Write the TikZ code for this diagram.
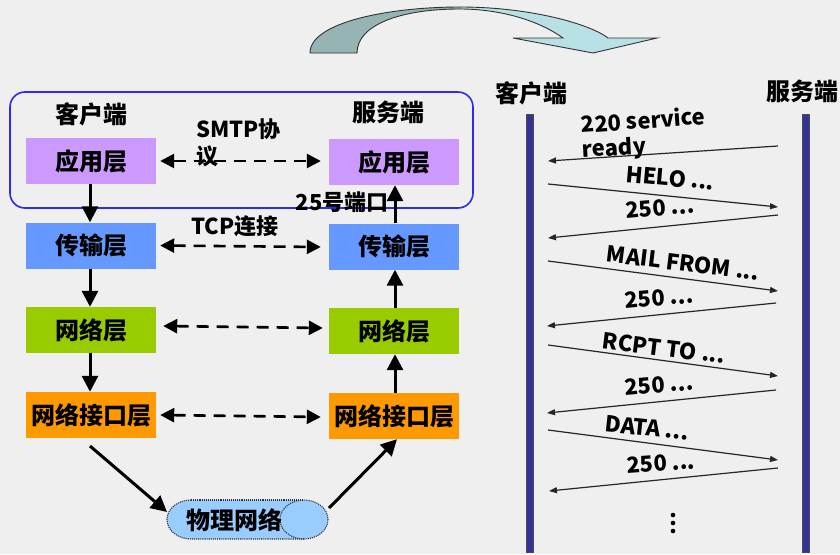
\documentclass[tikz,border=0pt]{standalone}
\usepackage{fontspec}
\setmainfont{Noto Sans CJK SC}
\usetikzlibrary{arrows.meta}
\definecolor{bg}{HTML}{EFEFEF}
\definecolor{appc}{HTML}{CC99FF}
\definecolor{tpc}{HTML}{6699FF}
\definecolor{netc}{HTML}{99CC00}
\definecolor{ifc}{HTML}{FF9900}
\definecolor{physc}{HTML}{99CCFF}
\definecolor{framec}{HTML}{2B2BF5}
\definecolor{barc}{HTML}{333399}
\definecolor{bigl}{HTML}{96B4B4}
\definecolor{bigr}{HTML}{B9E1E5}
\begin{document}
\begin{tikzpicture}[x=1pt,y=-1pt,
  big/.style={font=\fontsize{24}{26}\selectfont\bfseries},
  mid/.style={font=\fontsize{22}{27}\selectfont\bfseries},
  layer/.style={minimum width=130pt, minimum height=46pt, inner sep=0pt, big},
  downarrow/.style={-{Triangle[length=16pt,width=16pt]}, line width=3pt},
  dasharrow/.style={{Triangle[length=14pt,width=14pt]}-{Triangle[length=14pt,width=14pt]}, line width=2.6pt, dash pattern=on 12pt off 8pt},
  msg/.style={-{Triangle[length=8pt,width=6pt]}, line width=1.2pt, draw=black!85},
  lbl/.style={mid, inner sep=0pt},
  lifeline/.style={fill=barc, draw=black!70, line width=1pt}
]
\useasboundingbox (0,0) rectangle (840,554);
\fill[bg] (0,0) rectangle (840,554);

% big curved arrow
\begin{scope}
\path[save path=\bigarrow] (310,53) .. controls (310,22) and (390,7) .. (460,7)
  .. controls (530,7) and (590,24) .. (608,38) -- (657,38) -- (593,53) -- (513,38) -- (563,38)
  .. controls (535,18) and (495,9) .. (460,9) .. controls (400,9) and (357,25) .. (357,53) -- cycle;
\fill[bigr, use path=\bigarrow];
\begin{scope}
\clip (300,0) rectangle (462,60);
\fill[bigl, use path=\bigarrow];
\end{scope}
\draw[black!80, line width=0.9pt, use path=\bigarrow];
\end{scope}

% left: layers
\draw[framec, line width=1.6pt, rounded corners=15pt] (10,92) rectangle (473,208);
\node[big] (ch) at (91,114) {客户端};
\node[big] (sh) at (388,112) {服务端};

\node[layer, fill=appc] (ca) at (91,161) {应用层};
\node[layer, fill=appc] (sa) at (394,162) {应用层};
\node[layer, fill=tpc] (ct) at (91,245.5) {传输层};
\node[layer, fill=tpc] (st) at (394,246.5) {传输层};
\node[layer, fill=netc] (cn) at (91,330) {网络层};
\node[layer, fill=netc] (sn) at (394,331) {网络层};
\node[layer, fill=ifc] (ci) at (91,415) {网络接口层};
\node[layer, fill=ifc] (si) at (394,416) {网络接口层};

\node[mid, align=left, anchor=north west, inner sep=0pt] (smtp) at (196,118) {SMTP协\\议};
\node[mid] (tcp) at (235,226) {TCP连接};
\node[mid] (port) at (342,202) {25号端口};

\draw[dasharrow] ([xshift=4pt]ca.east) -- ([xshift=-8pt,yshift=1pt]sa.west);
\draw[dasharrow] ([xshift=4pt]ct.east) -- ([xshift=-8pt,yshift=-0.5pt]st.west);
\draw[dasharrow] ([xshift=7pt,yshift=4pt]cn.east) -- ([xshift=-6pt,yshift=3pt]sn.west);
\draw[dasharrow] ([xshift=4pt]ci.east) -- ([xshift=-8pt,yshift=-1pt]si.west);

\draw[downarrow] ([xshift=-1pt]ca.south) -- ([xshift=-1pt]ct.north);
\draw[downarrow] ([xshift=-1pt]ct.south) -- ([xshift=-1pt]cn.north);
\draw[downarrow] ([xshift=-1pt]cn.south) -- ([xshift=-1pt]ci.north);
\draw[downarrow] ([xshift=1pt]st.north) -- ([xshift=1pt]sa.south);
\draw[downarrow] ([xshift=1pt]sn.north) -- ([xshift=1pt]st.south);
\draw[downarrow] ([xshift=1pt]si.north) -- ([xshift=1pt]sn.south);

% physical network (horizontal cylinder)
\fill[physc] (191,500) arc[start angle=270, end angle=90, x radius=24, y radius=19.5]
  -- (304,539) -- (304,500) -- cycle;
\fill[physc] (304,519.5) ellipse [x radius=24, y radius=19.5];
\draw[densely dotted, line width=1.1pt, black!80] (191,500) arc[start angle=270, end angle=90, x radius=24, y radius=19.5] -- (304,539);
\draw[densely dotted, line width=1.1pt, black!80] (191,500) -- (304,500);
\draw[densely dotted, line width=1.1pt, black!80] (304,519.5) ellipse [x radius=24, y radius=19.5];
\node[big] (phys) at (234,520) {物理网络};
\coordinate (physin) at (167,512);
\coordinate (physout) at (329,508);
\coordinate (ciout) at (90,446);
\draw[downarrow] (ciout) -- (physin);
\draw[downarrow] (physout) -- ([xshift=3pt]si.south);

% right: sequence
\node[big] (rch) at (531,93) {客户端};
\node[big] (rsh) at (802,91) {服务端};
\filldraw[lifeline] (526,114) rectangle (533,552);
\filldraw[lifeline] (802,114) rectangle (809,552);

\draw[msg] (778,146) -- (548,161);
\draw[msg] (548,184) -- (778,207);
\draw[msg] (778,215) -- (548,238);
\draw[msg] (548,261) -- (778,291);
\draw[msg] (776,303) -- (547,326);
\draw[msg] (548,345) -- (778,376);
\draw[msg] (776,390) -- (547,413);
\draw[msg] (548,430) -- (778,460);
\draw[msg] (778,468) -- (549,491);

\node[lbl, rotate=4, anchor=west] (l1) at (581,124) {220 service};
\node[lbl, rotate=3, anchor=west] (l1b) at (582,151) {ready};
\node[lbl, rotate=-5] (l2) at (670,178) {HELO ...};
\node[lbl, rotate=5] (l3) at (660,208) {250 ...};
\node[lbl, rotate=-7] (l4) at (683,263) {MAIL FROM ...};
\node[lbl, rotate=5] (l5) at (659,298) {250 ...};
\node[lbl, rotate=-7] (l6) at (664,348) {RCPT TO ...};
\node[lbl, rotate=5] (l7) at (659,385) {250 ...};
\node[lbl, rotate=-6] (l8) at (647,428) {DATA ...};
\node[lbl, rotate=4] (l9) at (661,463) {250 ...};
\fill (673,515) circle (2.3pt) (673,523) circle (2.3pt) (673,531) circle (2.3pt);
\end{tikzpicture}
\end{document}
